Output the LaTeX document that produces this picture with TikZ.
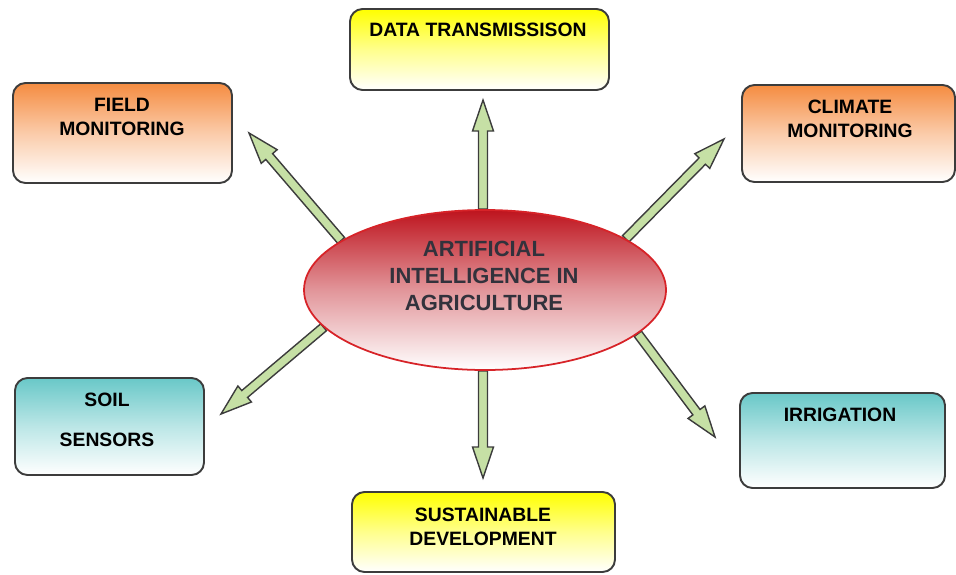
\documentclass[tikz,border=0pt]{standalone}
\usepackage{fontspec}
\setmainfont{Liberation Sans}
\usetikzlibrary{shapes.geometric,calc,backgrounds}

\definecolor{boxline}{RGB}{60,60,60}
\definecolor{orangetop}{RGB}{245,140,65}
\definecolor{yellowtop}{RGB}{255,255,0}
\definecolor{tealtop}{RGB}{105,200,200}
\definecolor{redtop}{RGB}{190,20,30}
\definecolor{redline}{RGB}{215,35,40}
\definecolor{arrowgreen}{RGB}{198,224,165}
\definecolor{aitext}{RGB}{50,50,60}

\tikzset{
	box/.style={draw=boxline, line width=1.1pt, rounded corners=0.25cm,
		top color=#1, bottom color=white, middle color=#1!45!white},
	boxtext/.style={font=\fontsize{11}{13.6}\selectfont\bfseries, align=center, inner sep=0pt},
	arrowbody/.style={fill=arrowgreen, draw=boxline, line width=0.8pt, line join=miter},
}

% block arrow from #1 to #2
\newcommand{\blockarrow}[2]{%
	\coordinate (hb) at ($(#2)!0.62cm!(#1)$);
	\filldraw[arrowbody] ($(#1)!0.09cm!90:(#2)$) -- ($(hb)!0.09cm!-90:(#1)$) -- ($(hb)!0.21cm!-90:(#1)$)
		-- (#2) -- ($(hb)!0.21cm!90:(#1)$) -- ($(hb)!0.09cm!90:(#1)$) -- ($(#1)!0.09cm!-90:(#2)$) -- cycle;
}

\begin{document}
\begin{tikzpicture}
	\useasboundingbox (0,0) rectangle (19.12,11.48);

	\node[shape=ellipse, draw=redline, line width=1pt, top color=redtop, bottom color=white,
		middle color=redtop!45!white, minimum width=7.24cm, minimum height=3.2cm, inner sep=0pt] (ai) at (9.7,5.68) {};
	\node[font=\fontsize{12.5}{15.6}\selectfont\bfseries, text=aitext, align=center] (aitxt) at (9.68,5.96)
		{ARTIFICIAL\\INTELLIGENCE IN\\AGRICULTURE};

	\node[box=yellowtop, minimum width=5.18cm, minimum height=1.62cm] (data) at (9.59,10.49) {};
	\node[box=orangetop, minimum width=4.38cm, minimum height=2cm] (field) at (2.45,8.82) {};
	\node[box=orangetop, minimum width=4.26cm, minimum height=1.94cm] (climate) at (16.97,8.81) {};
	\node[box=tealtop, minimum width=3.78cm, minimum height=1.94cm] (soil) at (2.19,2.95) {};
	\node[box=tealtop, minimum width=4.1cm, minimum height=1.9cm] (irrigation) at (16.85,2.67) {};
	\node[box=yellowtop, minimum width=5.26cm, minimum height=1.6cm] (sust) at (9.67,0.84) {};

	\node[boxtext] (datatxt) at (9.56,10.88) {DATA TRANSMISSISON};
	\node[boxtext] (fieldtxt) at (2.44,9.14) {FIELD\\MONITORING};
	\node[boxtext] (climatetxt) at (17.0,9.1) {CLIMATE\\MONITORING};
	\node[boxtext] (soiltxt) at (2.14,3.08) {SOIL\\[9pt]SENSORS};
	\node[boxtext] (irrigationtxt) at (16.8,3.18) {IRRIGATION};
	\node[boxtext] (susttxt) at (9.66,0.95) {SUSTAINABLE\\DEVELOPMENT};

	\coordinate (toptip) at (9.66,9.48);
	\coordinate (bottip) at (9.66,1.92);
	\coordinate (ultip) at (4.98,8.82);
	\coordinate (urtip) at (14.48,8.70);
	\coordinate (lltip) at (4.42,3.20);
	\coordinate (lrtip) at (14.30,2.74);
	\coordinate (topbase) at (ai.north -| toptip);
	\coordinate (botbase) at (ai.south -| bottip);

	\begin{pgfonlayer}{background}
		\blockarrow{topbase}{toptip}
		\blockarrow{botbase}{bottip}
		\blockarrow{ai.161}{ultip}
		\blockarrow{ai.20}{urtip}
		\blockarrow{ai.193}{lltip}
		\blockarrow{ai.344}{lrtip}
	\end{pgfonlayer}

\end{tikzpicture}
\end{document}
